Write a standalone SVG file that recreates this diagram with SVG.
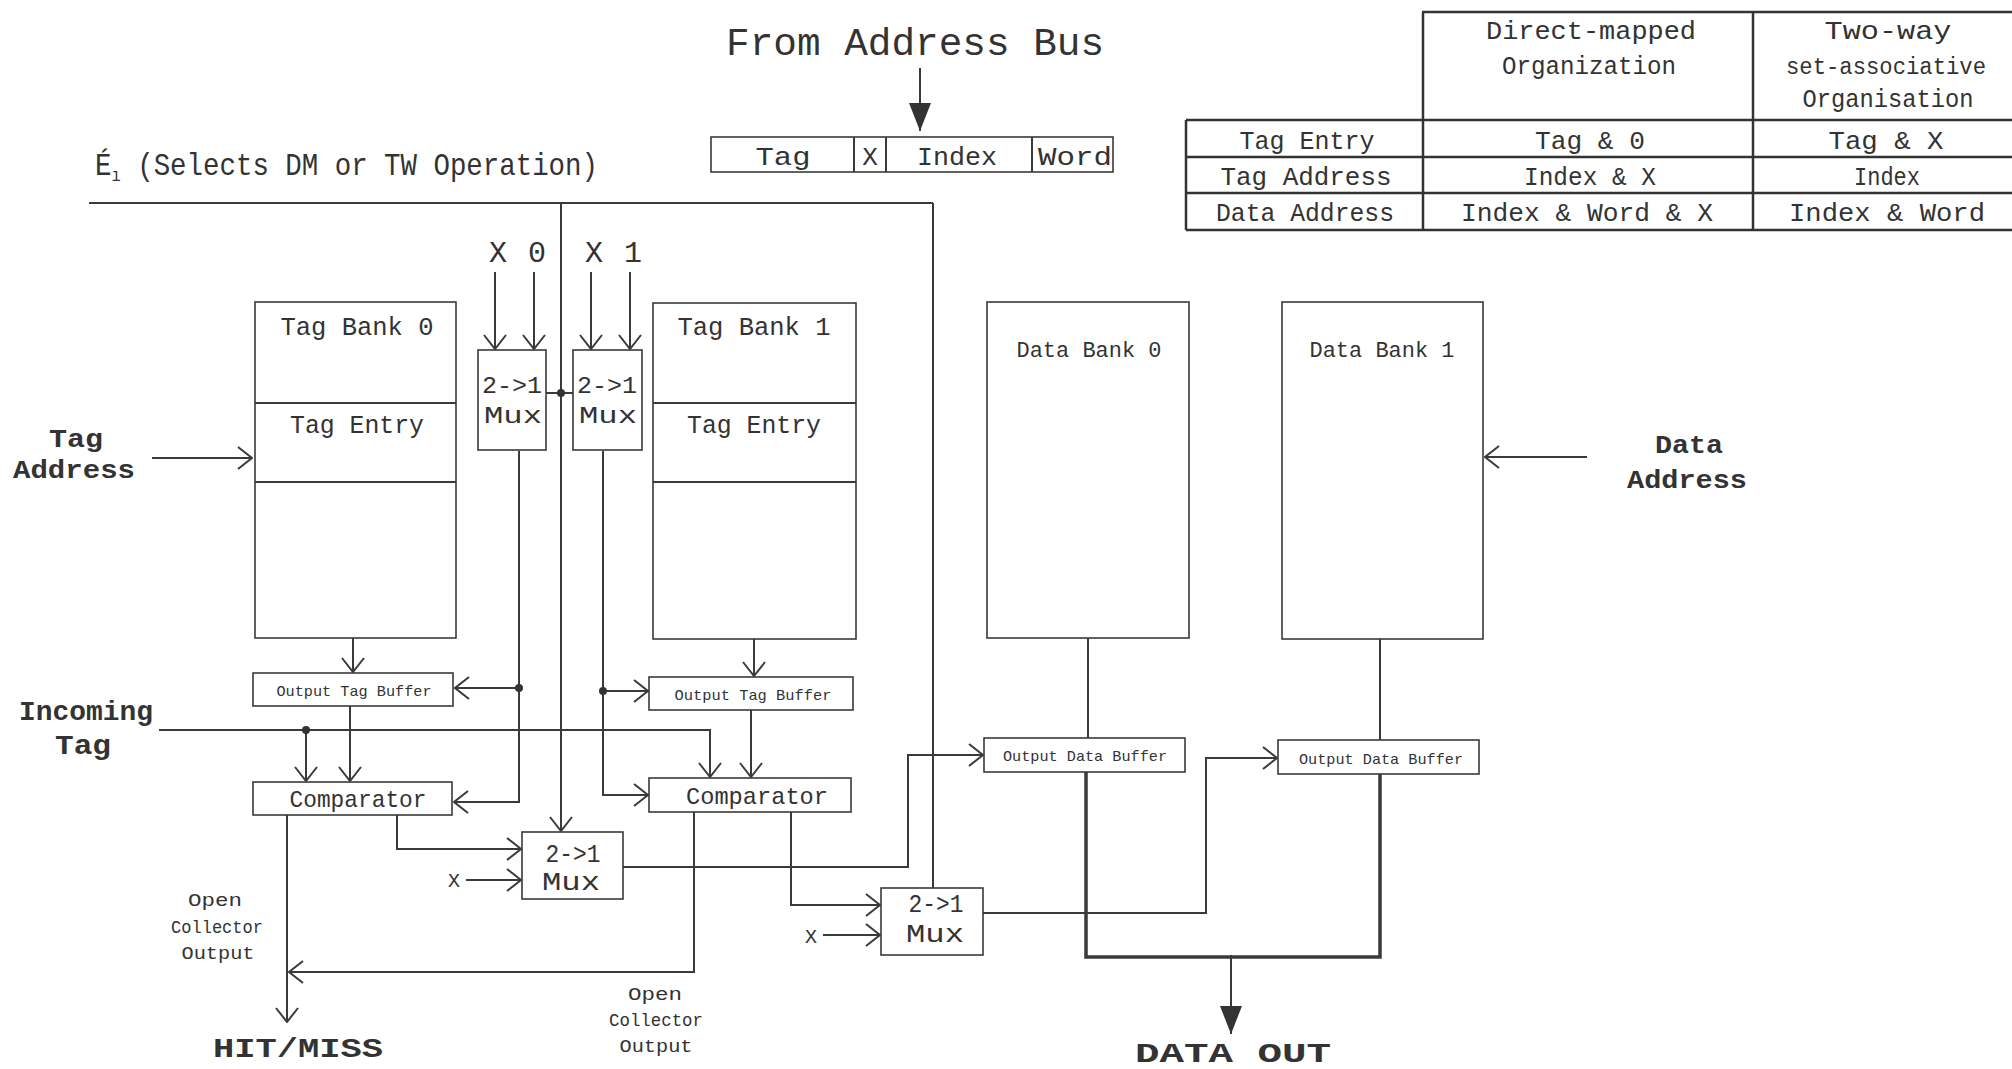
<svg xmlns="http://www.w3.org/2000/svg" width="2012" height="1069" viewBox="0 0 2012 1069">
<defs>
<style>
.t{font-family:"Liberation Mono","Courier New",monospace;fill:#333;}
.b{font-weight:bold;}
.box{fill:#fff;stroke:#3a3a3a;stroke-width:1.6;}
.ln{fill:none;stroke:#3a3a3a;stroke-width:2;}
.thick{fill:none;stroke:#3a3a3a;stroke-width:3.5;}
.tbl{fill:none;stroke:#333;stroke-width:2.5;}
.dot{fill:#333;}
</style>
<marker id="open" viewBox="0 0 16 24" refX="15" refY="12" markerWidth="16" markerHeight="24" markerUnits="userSpaceOnUse" orient="auto">
<path d="M1,1 L15,12 L1,23" fill="none" stroke="#3a3a3a" stroke-width="2"/>
</marker>
<marker id="filled" viewBox="0 0 28 22" refX="28" refY="11" markerWidth="28" markerHeight="22" markerUnits="userSpaceOnUse" orient="auto">
<path d="M0,0 L28,11 L0,22 z" fill="#333"/>
</marker>
</defs>
<rect width="2012" height="1069" fill="#fff"/>

<!-- Title and address fields -->
<g id="address-bus">
<text class="t" x="915" y="55" font-size="38" text-anchor="middle" textLength="378" lengthAdjust="spacingAndGlyphs">From Address Bus</text>
<rect class="box" x="711" y="137" width="402" height="35"/>
<line class="ln" x1="854" y1="137" x2="854" y2="172"/>
<line class="ln" x1="886" y1="137" x2="886" y2="172"/>
<line class="ln" x1="1032" y1="137" x2="1032" y2="172"/>
<text class="t" x="783" y="165" font-size="26" text-anchor="middle" textLength="55" lengthAdjust="spacingAndGlyphs">Tag</text>
<text class="t" x="870" y="165" font-size="26" text-anchor="middle">X</text>
<text class="t" x="957" y="165" font-size="26" text-anchor="middle" textLength="80" lengthAdjust="spacingAndGlyphs">Index</text>
<text class="t" x="1075" y="165" font-size="26" text-anchor="middle" textLength="74" lengthAdjust="spacingAndGlyphs">Word</text>
</g>

<!-- Select line label -->
<g id="select-label">
<text class="t" x="95" y="175" font-size="32" textLength="503" lengthAdjust="spacingAndGlyphs">É<tspan font-size="18" dy="6">ı</tspan><tspan dy="-6"> (Selects DM or TW Operation)</tspan></text>
</g>

<!-- Table -->
<g id="table">
<line class="tbl" x1="1422" y1="12" x2="2012" y2="12"/>
<line class="tbl" x1="1186" y1="120" x2="2012" y2="120"/>
<line class="tbl" x1="1186" y1="157" x2="2012" y2="157"/>
<line class="tbl" x1="1186" y1="193" x2="2012" y2="193"/>
<line class="tbl" x1="1186" y1="230" x2="2012" y2="230"/>
<line class="tbl" x1="1186" y1="120" x2="1186" y2="230"/>
<line class="tbl" x1="1423" y1="12" x2="1423" y2="230"/>
<line class="tbl" x1="1753" y1="12" x2="1753" y2="230"/>
<text class="t" x="1591" y="39" font-size="26" text-anchor="middle" textLength="210" lengthAdjust="spacingAndGlyphs">Direct-mapped</text>
<text class="t" x="1589" y="74" font-size="26" text-anchor="middle" textLength="174" lengthAdjust="spacingAndGlyphs">Organization</text>
<text class="t" x="1888" y="39" font-size="26" text-anchor="middle" textLength="127" lengthAdjust="spacingAndGlyphs">Two-way</text>
<text class="t" x="1886" y="74" font-size="23" text-anchor="middle" textLength="200" lengthAdjust="spacingAndGlyphs">set-associative</text>
<text class="t" x="1888" y="107" font-size="26" text-anchor="middle" textLength="171" lengthAdjust="spacingAndGlyphs">Organisation</text>
<text class="t" x="1307" y="149" font-size="26" text-anchor="middle" textLength="135" lengthAdjust="spacingAndGlyphs">Tag Entry</text>
<text class="t" x="1306" y="185" font-size="26" text-anchor="middle" textLength="171" lengthAdjust="spacingAndGlyphs">Tag Address</text>
<text class="t" x="1305" y="221" font-size="26" text-anchor="middle" textLength="178" lengthAdjust="spacingAndGlyphs">Data Address</text>
<text class="t" x="1590" y="149" font-size="26" text-anchor="middle" textLength="110" lengthAdjust="spacingAndGlyphs">Tag &amp; 0</text>
<text class="t" x="1590" y="185" font-size="26" text-anchor="middle" textLength="132" lengthAdjust="spacingAndGlyphs">Index &amp; X</text>
<text class="t" x="1587" y="221" font-size="26" text-anchor="middle" textLength="252" lengthAdjust="spacingAndGlyphs">Index &amp; Word &amp; X</text>
<text class="t" x="1886" y="149" font-size="26" text-anchor="middle" textLength="115" lengthAdjust="spacingAndGlyphs">Tag &amp; X</text>
<text class="t" x="1887" y="185" font-size="26" text-anchor="middle" textLength="66" lengthAdjust="spacingAndGlyphs">Index</text>
<text class="t" x="1887" y="221" font-size="26" text-anchor="middle" textLength="196" lengthAdjust="spacingAndGlyphs">Index &amp; Word</text>
</g>

<!-- Connectors -->
<g id="connectors">
<line class="ln" x1="920" y1="68" x2="920" y2="131" marker-end="url(#filled)"/>
<line class="ln" x1="89" y1="203" x2="933" y2="203"/>
<line class="ln" x1="561" y1="203" x2="561" y2="831" marker-end="url(#open)"/>
<line class="ln" x1="933" y1="203" x2="933" y2="888"/>
<line class="ln" x1="546" y1="393" x2="573" y2="393"/>
<circle class="dot" cx="561" cy="393" r="4"/>
<line class="ln" x1="495" y1="272" x2="495" y2="349" marker-end="url(#open)"/>
<line class="ln" x1="534" y1="272" x2="534" y2="349" marker-end="url(#open)"/>
<line class="ln" x1="591" y1="272" x2="591" y2="349" marker-end="url(#open)"/>
<line class="ln" x1="630" y1="272" x2="630" y2="349" marker-end="url(#open)"/>
<line class="ln" x1="152" y1="458" x2="252" y2="458" marker-end="url(#open)"/>
<line class="ln" x1="1587" y1="457" x2="1485" y2="457" marker-end="url(#open)"/>
<line class="ln" x1="353" y1="638" x2="353" y2="672" marker-end="url(#open)"/>
<line class="ln" x1="754" y1="639" x2="754" y2="676" marker-end="url(#open)"/>
<polyline class="ln" points="519,451 519,802 454,802" marker-end="url(#open)"/>
<line class="ln" x1="519" y1="688" x2="455" y2="688" marker-end="url(#open)"/>
<circle class="dot" cx="519" cy="688" r="4"/>
<polyline class="ln" points="603,451 603,795 648,795" marker-end="url(#open)"/>
<line class="ln" x1="603" y1="691" x2="648" y2="691" marker-end="url(#open)"/>
<circle class="dot" cx="603" cy="691" r="4"/>
<polyline class="ln" points="159,730 710,730 710,777" marker-end="url(#open)"/>
<line class="ln" x1="306" y1="730" x2="306" y2="781" marker-end="url(#open)"/>
<circle class="dot" cx="306" cy="730" r="4"/>
<line class="ln" x1="350" y1="706" x2="350" y2="781" marker-end="url(#open)"/>
<line class="ln" x1="751" y1="710" x2="751" y2="777" marker-end="url(#open)"/>
<polyline class="ln" points="397,815 397,849 521,849" marker-end="url(#open)"/>
<line class="ln" x1="287" y1="815" x2="287" y2="1022" marker-end="url(#open)"/>
<polyline class="ln" points="694,812 694,972 289,972" marker-end="url(#open)"/>
<polyline class="ln" points="791,812 791,905 880,905" marker-end="url(#open)"/>
<line class="ln" x1="466" y1="880" x2="521" y2="880" marker-end="url(#open)"/>
<line class="ln" x1="823" y1="935" x2="880" y2="935" marker-end="url(#open)"/>
<polyline class="ln" points="623,867 908,867 908,755 983,755" marker-end="url(#open)"/>
<polyline class="ln" points="983,913 1206,913 1206,758 1277,758" marker-end="url(#open)"/>
<line class="ln" x1="1088" y1="638" x2="1088" y2="738"/>
<line class="ln" x1="1380" y1="639" x2="1380" y2="740"/>
<polyline class="thick" points="1086,772 1086,957 1380,957 1380,774"/>
<line class="ln" x1="1231" y1="955" x2="1231" y2="1034" marker-end="url(#filled)"/>
</g>

<!-- Nodes -->
<g id="tag-bank-0">
<rect class="box" x="255" y="302" width="201" height="336"/>
<line class="ln" x1="255" y1="403" x2="456" y2="403" stroke-width="1.6"/>
<line class="ln" x1="255" y1="482" x2="456" y2="482" stroke-width="1.6"/>
<text class="t" x="357" y="335" font-size="26" text-anchor="middle" textLength="153" lengthAdjust="spacingAndGlyphs">Tag Bank 0</text>
<text class="t" x="357" y="433" font-size="26" text-anchor="middle" textLength="134" lengthAdjust="spacingAndGlyphs">Tag Entry</text>
</g>
<g id="tag-bank-1">
<rect class="box" x="653" y="303" width="203" height="336"/>
<line class="ln" x1="653" y1="403" x2="856" y2="403" stroke-width="1.6"/>
<line class="ln" x1="653" y1="482" x2="856" y2="482" stroke-width="1.6"/>
<text class="t" x="754" y="335" font-size="26" text-anchor="middle" textLength="153" lengthAdjust="spacingAndGlyphs">Tag Bank 1</text>
<text class="t" x="754" y="433" font-size="26" text-anchor="middle" textLength="134" lengthAdjust="spacingAndGlyphs">Tag Entry</text>
</g>
<g id="mux-a">
<rect class="box" x="478" y="350" width="68" height="100"/>
<text class="t" x="512" y="393" font-size="24" text-anchor="middle" textLength="60" lengthAdjust="spacingAndGlyphs">2-&gt;1</text>
<text class="t" x="513" y="423" font-size="24" text-anchor="middle" textLength="58" lengthAdjust="spacingAndGlyphs">Mux</text>
</g>
<g id="mux-b">
<rect class="box" x="573" y="350" width="69" height="100"/>
<text class="t" x="607" y="393" font-size="24" text-anchor="middle" textLength="60" lengthAdjust="spacingAndGlyphs">2-&gt;1</text>
<text class="t" x="608" y="423" font-size="24" text-anchor="middle" textLength="58" lengthAdjust="spacingAndGlyphs">Mux</text>
</g>
<g id="x-labels">
<text class="t" x="498" y="262" font-size="30" text-anchor="middle">X</text>
<text class="t" x="537" y="262" font-size="30" text-anchor="middle">0</text>
<text class="t" x="594" y="262" font-size="30" text-anchor="middle">X</text>
<text class="t" x="633" y="262" font-size="30" text-anchor="middle">1</text>
</g>
<g id="tag-address">
<text class="t b" x="76" y="447" font-size="26" text-anchor="middle" textLength="54" lengthAdjust="spacingAndGlyphs">Tag</text>
<text class="t b" x="74" y="478" font-size="26" text-anchor="middle" textLength="122" lengthAdjust="spacingAndGlyphs">Address</text>
</g>
<g id="data-address">
<text class="t b" x="1689" y="453" font-size="26" text-anchor="middle" textLength="68" lengthAdjust="spacingAndGlyphs">Data</text>
<text class="t b" x="1687" y="488" font-size="26" text-anchor="middle" textLength="120" lengthAdjust="spacingAndGlyphs">Address</text>
</g>
<g id="incoming-tag">
<text class="t b" x="86" y="720" font-size="28" text-anchor="middle" textLength="134" lengthAdjust="spacingAndGlyphs">Incoming</text>
<text class="t b" x="83" y="754" font-size="28" text-anchor="middle" textLength="56" lengthAdjust="spacingAndGlyphs">Tag</text>
</g>
<g id="output-tag-buffer-0">
<rect class="box" x="253" y="673" width="200" height="33"/>
<text class="t" x="354" y="696" font-size="15" text-anchor="middle" textLength="155" lengthAdjust="spacingAndGlyphs">Output Tag Buffer</text>
</g>
<g id="output-tag-buffer-1">
<rect class="box" x="649" y="677" width="204" height="33"/>
<text class="t" x="753" y="700" font-size="15" text-anchor="middle" textLength="157" lengthAdjust="spacingAndGlyphs">Output Tag Buffer</text>
</g>
<g id="comparator-0">
<rect class="box" x="253" y="782" width="199" height="33"/>
<text class="t" x="358" y="807" font-size="24" text-anchor="middle" textLength="137" lengthAdjust="spacingAndGlyphs">Comparator</text>
</g>
<g id="comparator-1">
<rect class="box" x="649" y="778" width="202" height="34"/>
<text class="t" x="757" y="804" font-size="24" text-anchor="middle" textLength="142" lengthAdjust="spacingAndGlyphs">Comparator</text>
</g>
<g id="mux-c">
<rect class="box" x="522" y="832" width="101" height="67"/>
<text class="t" x="573" y="862" font-size="26" text-anchor="middle" textLength="55" lengthAdjust="spacingAndGlyphs">2-&gt;1</text>
<text class="t" x="571" y="890" font-size="26" text-anchor="middle" textLength="58" lengthAdjust="spacingAndGlyphs">Mux</text>
<text class="t" x="454" y="887" font-size="20" text-anchor="middle">X</text>
</g>
<g id="mux-d">
<rect class="box" x="881" y="888" width="102" height="67"/>
<text class="t" x="936" y="912" font-size="26" text-anchor="middle" textLength="55" lengthAdjust="spacingAndGlyphs">2-&gt;1</text>
<text class="t" x="935" y="942" font-size="26" text-anchor="middle" textLength="58" lengthAdjust="spacingAndGlyphs">Mux</text>
<text class="t" x="811" y="943" font-size="20" text-anchor="middle">X</text>
</g>
<g id="data-bank-0">
<rect class="box" x="987" y="302" width="202" height="336"/>
<text class="t" x="1089" y="357" font-size="22" text-anchor="middle" textLength="145" lengthAdjust="spacingAndGlyphs">Data Bank 0</text>
</g>
<g id="data-bank-1">
<rect class="box" x="1282" y="302" width="201" height="337"/>
<text class="t" x="1382" y="357" font-size="22" text-anchor="middle" textLength="145" lengthAdjust="spacingAndGlyphs">Data Bank 1</text>
</g>
<g id="output-data-buffer-0">
<rect class="box" x="984" y="738" width="201" height="34"/>
<text class="t" x="1085" y="761" font-size="15" text-anchor="middle" textLength="164" lengthAdjust="spacingAndGlyphs">Output Data Buffer</text>
</g>
<g id="output-data-buffer-1">
<rect class="box" x="1278" y="740" width="201" height="34"/>
<text class="t" x="1381" y="764" font-size="15" text-anchor="middle" textLength="164" lengthAdjust="spacingAndGlyphs">Output Data Buffer</text>
</g>
<g id="open-collector-left">
<text class="t" x="215" y="906" font-size="19" text-anchor="middle" textLength="54" lengthAdjust="spacingAndGlyphs">Open</text>
<text class="t" x="217" y="933" font-size="19" text-anchor="middle" textLength="92" lengthAdjust="spacingAndGlyphs">Collector</text>
<text class="t" x="218" y="959" font-size="19" text-anchor="middle" textLength="73" lengthAdjust="spacingAndGlyphs">Output</text>
</g>
<g id="open-collector-right">
<text class="t" x="655" y="1000" font-size="19" text-anchor="middle" textLength="54" lengthAdjust="spacingAndGlyphs">Open</text>
<text class="t" x="656" y="1026" font-size="19" text-anchor="middle" textLength="94" lengthAdjust="spacingAndGlyphs">Collector</text>
<text class="t" x="656" y="1052" font-size="19" text-anchor="middle" textLength="73" lengthAdjust="spacingAndGlyphs">Output</text>
</g>
<g id="hit-miss">
<text class="t b" x="298" y="1057" font-size="28" text-anchor="middle" textLength="170" lengthAdjust="spacingAndGlyphs">HIT/MISS</text>
</g>
<g id="data-out">
<text class="t b" x="1233" y="1062" font-size="28" text-anchor="middle" textLength="196" lengthAdjust="spacingAndGlyphs">DATA OUT</text>
</g>
</svg>
